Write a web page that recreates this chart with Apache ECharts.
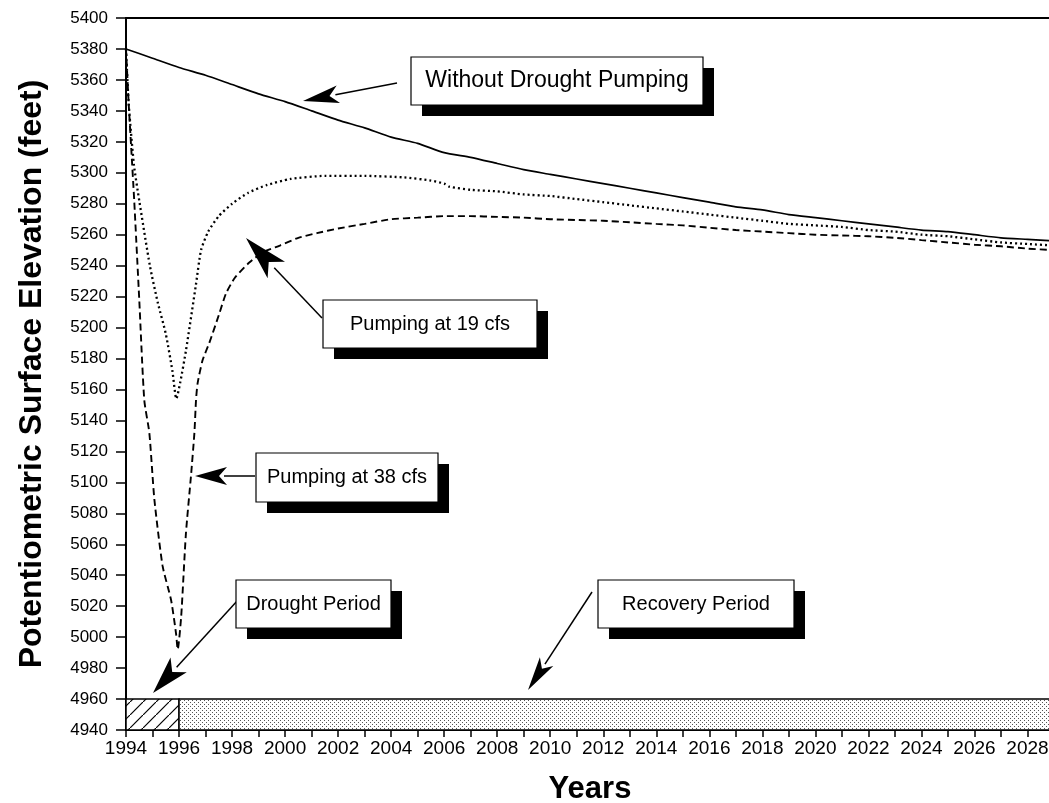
<!DOCTYPE html>
<html><head><meta charset="utf-8">
<script src="https://cdn.jsdelivr.net/npm/echarts@6/dist/echarts.min.js"></script>
<style>html,body{margin:0;padding:0;background:#fff}#c{width:1049px;height:803px}</style>
</head><body><div id="c"></div>
<script>
// ---- data ----
const xMin = 1994, xMax = 2029, xStep = 1;
const yMin = 4940, yMax = 5400, yStep = 20;

const withoutPumping = [
  [1994,5380],[1995,5374],[1996,5368],[1997,5363],[1998,5357],[1999,5351],[2000,5346],
  [2001,5340],[2002,5334],[2003,5329],[2004,5323],[2005,5319],[2006,5313],[2007,5310],
  [2008,5306],[2009,5302],[2010,5299],[2011,5296],[2012,5293],[2013,5290],[2014,5287],
  [2015,5284],[2016,5281],[2017,5278],[2018,5276],[2019,5273],[2020,5271],[2021,5269],
  [2022,5267],[2023,5265],[2024,5263],[2025,5262],[2026,5260],[2027,5258],[2028,5257],[2029,5256]
];
const pumping19 = [
  [1994,5380],[1994.1,5345],[1994.3,5305],[1994.5,5282],[1994.9,5240],[1995.2,5216],
  [1995.5,5196],[1995.75,5172],[1995.9,5154],[1996.05,5165],[1996.26,5185],[1996.64,5228],
  [1996.83,5250],[1997.1,5262],[1997.5,5272],[1998,5280],[1998.6,5287],[1999.3,5292],
  [2000.2,5296],[2001.5,5298],[2003,5298],[2004.5,5297],[2005.5,5295],[2006,5293],
  [2006.2,5291],[2007,5289],[2008,5288],[2009,5286],[2010,5285],[2011,5283],[2012,5281],
  [2013,5279],[2014,5277],[2015,5275],[2016,5273],[2017,5271],[2018,5269],[2019,5267],
  [2020,5266],[2021,5265],[2022,5263],[2023,5262],[2024,5260],[2025,5259],[2026,5257],
  [2027,5255],[2028,5254],[2029,5253]
];
const pumping38 = [
  [1994,5380],[1994.1,5345],[1994.2,5315],[1994.31,5282],[1994.5,5218],[1994.69,5153],
  [1994.88,5132],[1995.07,5089],[1995.38,5046],[1995.7,5024],[1995.89,5002],[1995.95,4992],
  [1996.08,5013],[1996.26,5067],[1996.45,5104],[1996.58,5132],[1996.64,5153],[1996.7,5164],
  [1996.89,5179],[1997.14,5190],[1997.5,5208],[1997.77,5222],[1998.1,5232],[1998.65,5242],
  [1999.2,5249],[1999.8,5253],[2000.5,5258],[2001.2,5261],[2002,5264],[2003,5267],
  [2004,5270],[2005,5271],[2006,5272],[2007,5272],[2008,5271.5],[2009,5271],[2010,5270],
  [2011,5269.5],[2012,5269],[2013,5268],[2014,5267],[2015,5266],[2016,5264.5],[2017,5263],
  [2018,5262],[2019,5261],[2020,5260],[2021,5259.5],[2022,5259],[2023,5258],[2024,5256.5],
  [2025,5255],[2026,5253.5],[2027,5252.5],[2028,5251],[2029,5250]
];
const droughtPeriod = [1994, 1996];
const recoveryPeriod = [1996, 2029];
const periodBand = [4940, 4960];

const labelsText = {
  without: 'Without Drought Pumping',
  p19: 'Pumping at 19 cfs',
  p38: 'Pumping at 38 cfs',
  drought: 'Drought Period',
  recovery: 'Recovery Period'
};

// ---- patterns ----
function hatchPattern(){
  const c=document.createElement('canvas'); c.width=13; c.height=13;
  const g=c.getContext('2d'); g.fillStyle='#fff'; g.fillRect(0,0,13,13);
  g.strokeStyle='#000'; g.lineWidth=1.2;
  g.beginPath(); g.moveTo(-2,15); g.lineTo(15,-2); g.stroke();
  return c;
}
function dotPattern(){
  const c=document.createElement('canvas'); c.width=4; c.height=4;
  const g=c.getContext('2d'); g.fillStyle='#fff'; g.fillRect(0,0,4,4);
  g.fillStyle='#555'; g.fillRect(0,0,1,1); g.fillRect(2,2,1,1);
  return c;
}

const FONT='"Liberation Sans", Arial, sans-serif';

// ---- annotations (pixel layout) ----
function box(x,y,w,h,text,fs){
  return [
    {type:'rect', shape:{x:x+11,y:y+11,width:w,height:h}, style:{fill:'#000'}, z:100},
    {type:'rect', shape:{x:x,y:y,width:w,height:h}, style:{fill:'#fff',stroke:'#000',lineWidth:1.2}, z:101},
    {type:'text', x:x+w/2, y:y+h/2, style:{text:text, fill:'#000', font:fs+'px '+FONT, textAlign:'center', textVerticalAlign:'middle'}, z:102}
  ];
}
function arrow(x1,y1,x2,y2,L,W){
  const dx=x2-x1, dy=y2-y1, len=Math.hypot(dx,dy), ux=dx/len, uy=dy/len;
  const bx=x2-ux*L, by=y2-uy*L, px=-uy, py=ux;
  return [
    {type:'line', shape:{x1:x1,y1:y1,x2:bx+ux*3,y2:by+uy*3}, style:{stroke:'#000',lineWidth:1.5}, z:100},
    {type:'polygon', shape:{points:[[x2,y2],[bx+px*W,by+py*W],[bx+ux*L*0.25,by+uy*L*0.25],[bx-px*W,by-py*W]]}, style:{fill:'#000'}, z:100}
  ];
}
const graphics = [].concat(
  box(411,57,292,48,labelsText.without,23),
  arrow(397,83,303,101,36,9),
  box(323,300,214,48,labelsText.p19,20),
  arrow(322,318,246,238,44,12),
  box(256,453,182,49,labelsText.p38,20),
  arrow(255,476,195,476,32,9),
  box(236,580,155,48,labelsText.drought,20),
  arrow(238,600,153,693,38,11),
  box(598,580,196,48,labelsText.recovery,20),
  arrow(592,592,528,690,34,8)
);

const chart = echarts.init(document.getElementById('c'), null, {renderer:'canvas'});
chart.setOption({
  animation:false,
  backgroundColor:'#fff',
  grid:{left:126, right:-5, top:18, bottom:73, outerBoundsMode:'none', containLabel:false, show:false},
  xAxis:[{
    type:'value', min:xMin, max:xMax, interval:xStep,
    name:'Years', nameLocation:'middle', nameGap:44,
    nameTextStyle:{fontSize:31, fontWeight:'bold', color:'#000', fontFamily:FONT},
    axisLine:{show:true, lineStyle:{color:'#000', width:2}},
    axisTick:{show:true, length:7, lineStyle:{color:'#000', width:1.5}},
    splitLine:{show:false},
    axisLabel:{color:'#000', fontSize:19, fontFamily:FONT, margin:9,
      formatter:v => (v % 2 === 0 && v <= 2028) ? String(v) : ''}
  },{
    type:'value', position:'top', min:xMin, max:xMax, interval:xStep,
    axisLine:{show:true, lineStyle:{color:'#000', width:2}},
    axisTick:{show:false}, axisLabel:{show:false}, splitLine:{show:false}
  }],
  yAxis:{
    type:'value', min:yMin, max:yMax, interval:yStep,
    name:'Potentiometric Surface Elevation (feet)', nameLocation:'middle', nameGap:78,
    nameTextStyle:{fontSize:32, fontWeight:'bold', color:'#000', fontFamily:FONT},
    axisLine:{show:true, lineStyle:{color:'#000', width:2}},
    axisTick:{show:true, length:10, lineStyle:{color:'#000', width:1.5}},
    splitLine:{show:false},
    axisLabel:{color:'#000', fontSize:17, fontFamily:FONT, margin:18, formatter:v => String(v)}
  },
  series:[
    {type:'line', name:'Without Drought Pumping', data:withoutPumping, symbol:'none', smooth:0.2,
     lineStyle:{color:'#000', width:1.7}, z:5,
     markArea:{silent:true, label:{show:false},
       itemStyle:{borderColor:'#000', borderWidth:1.5},
       data:[
        [{xAxis:droughtPeriod[0], yAxis:periodBand[0], itemStyle:{color:{image:hatchPattern(), repeat:'repeat'}, borderColor:'#000', borderWidth:1.5}},
         {xAxis:droughtPeriod[1], yAxis:periodBand[1]}],
        [{xAxis:recoveryPeriod[0], yAxis:periodBand[0], itemStyle:{color:{image:dotPattern(), repeat:'repeat'}, borderColor:'#000', borderWidth:1.5}},
         {xAxis:recoveryPeriod[1], yAxis:periodBand[1]}]
       ]}},
    {type:'line', name:'Pumping at 19 cfs', data:pumping19, symbol:'none', smooth:0.2,
     lineStyle:{color:'#000', width:2.3, type:[2,3]}, z:5},
    {type:'line', name:'Pumping at 38 cfs', data:pumping38, symbol:'none', smooth:0.2,
     lineStyle:{color:'#000', width:1.9, type:[7,4]}, z:5}
  ],
  graphic:graphics
});
</script>
</body></html>
